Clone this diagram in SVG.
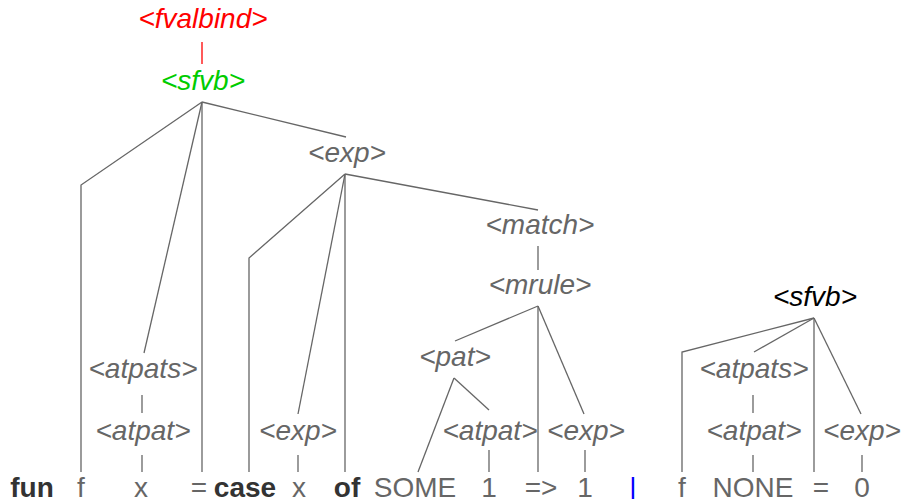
<svg xmlns="http://www.w3.org/2000/svg" width="905" height="499" viewBox="0 0 905 499">
<style>
text{font-family:"Liberation Sans",Arial,sans-serif;font-size:28px;text-anchor:middle}
.nt{font-style:italic;fill:#666}
.tk{fill:#666}
.kw{font-weight:bold;fill:#333}
.e line,.e polyline{stroke:#666;stroke-width:1.3;fill:none}
</style>
<rect width="905" height="499" fill="#fff"/>
<g id="connectors" class="e">
<line x1="202" y1="42" x2="202" y2="64" style="stroke:#f00"/>
<polyline points="202,102 81,185 81,472"/>
<line x1="202" y1="102" x2="144" y2="353"/>
<line x1="202" y1="102" x2="202" y2="472"/>
<line x1="202" y1="102" x2="346" y2="137"/>
<polyline points="345,174 249,258 249,472"/>
<line x1="345" y1="174" x2="298" y2="414"/>
<line x1="345" y1="174" x2="345" y2="472"/>
<line x1="345" y1="174" x2="538" y2="210"/>
<line x1="538" y1="246" x2="538" y2="270"/>
<line x1="538" y1="306" x2="455" y2="341"/>
<line x1="538" y1="306" x2="538" y2="472"/>
<line x1="538" y1="306" x2="584" y2="414"/>
<line x1="454" y1="378" x2="418" y2="472"/>
<line x1="454" y1="378" x2="489" y2="410"/>
<line x1="489" y1="450" x2="489" y2="472"/>
<line x1="585" y1="450" x2="585" y2="472"/>
<line x1="142" y1="395" x2="142" y2="413"/>
<line x1="142" y1="455" x2="142" y2="472"/>
<line x1="298" y1="455" x2="298" y2="472"/>
<polyline points="814,318 682,352 682,472"/>
<line x1="814" y1="318" x2="754" y2="352"/>
<line x1="814" y1="318" x2="814" y2="472"/>
<line x1="814" y1="318" x2="861" y2="414"/>
<line x1="753" y1="395" x2="753" y2="413"/>
<line x1="753" y1="455" x2="753" y2="472"/>
<line x1="862" y1="455" x2="862" y2="472"/>
</g>
<g id="n-fvalbind"><text class="nt" x="203" y="28" style="fill:#f00">&lt;fvalbind&gt;</text></g>
<g id="n-sfvb1"><text class="nt" x="203" y="90" style="fill:#00cc00">&lt;sfvb&gt;</text></g>
<g id="n-exp1"><text class="nt" x="347" y="162">&lt;exp&gt;</text></g>
<g id="n-match"><text class="nt" x="540" y="234">&lt;match&gt;</text></g>
<g id="n-mrule"><text class="nt" x="540" y="294">&lt;mrule&gt;</text></g>
<g id="n-pat"><text class="nt" x="455" y="366">&lt;pat&gt;</text></g>
<g id="n-atpats1"><text class="nt" x="143" y="378">&lt;atpats&gt;</text></g>
<g id="n-atpat1"><text class="nt" x="143" y="440">&lt;atpat&gt;</text></g>
<g id="n-exp2"><text class="nt" x="298" y="440">&lt;exp&gt;</text></g>
<g id="n-atpat2"><text class="nt" x="490" y="440">&lt;atpat&gt;</text></g>
<g id="n-exp3"><text class="nt" x="586" y="440">&lt;exp&gt;</text></g>
<g id="n-sfvb2"><text class="nt" x="815" y="306" style="fill:#000">&lt;sfvb&gt;</text></g>
<g id="n-atpats2"><text class="nt" x="754" y="378">&lt;atpats&gt;</text></g>
<g id="n-atpat3"><text class="nt" x="754" y="440">&lt;atpat&gt;</text></g>
<g id="n-exp4"><text class="nt" x="862" y="440">&lt;exp&gt;</text></g>
<g id="tokens">
<text class="kw" x="32" y="497">fun</text>
<text class="tk" x="81" y="497">f</text>
<text class="tk" x="141" y="497">x</text>
<text class="tk" x="199" y="497">=</text>
<text class="kw" x="245" y="497">case</text>
<text class="tk" x="299" y="497">x</text>
<text class="kw" x="347" y="497">of</text>
<text class="tk" x="415" y="497">SOME</text>
<text class="tk" x="489" y="497">1</text>
<text class="tk" x="541" y="497">=&gt;</text>
<text class="tk" x="585" y="497">1</text>
<text class="tk" x="633" y="497" style="fill:#00f">|</text>
<text class="tk" x="682" y="497">f</text>
<text class="tk" x="753" y="497">NONE</text>
<text class="tk" x="821" y="497">=</text>
<text class="tk" x="862" y="497">0</text>
</g>
</svg>
